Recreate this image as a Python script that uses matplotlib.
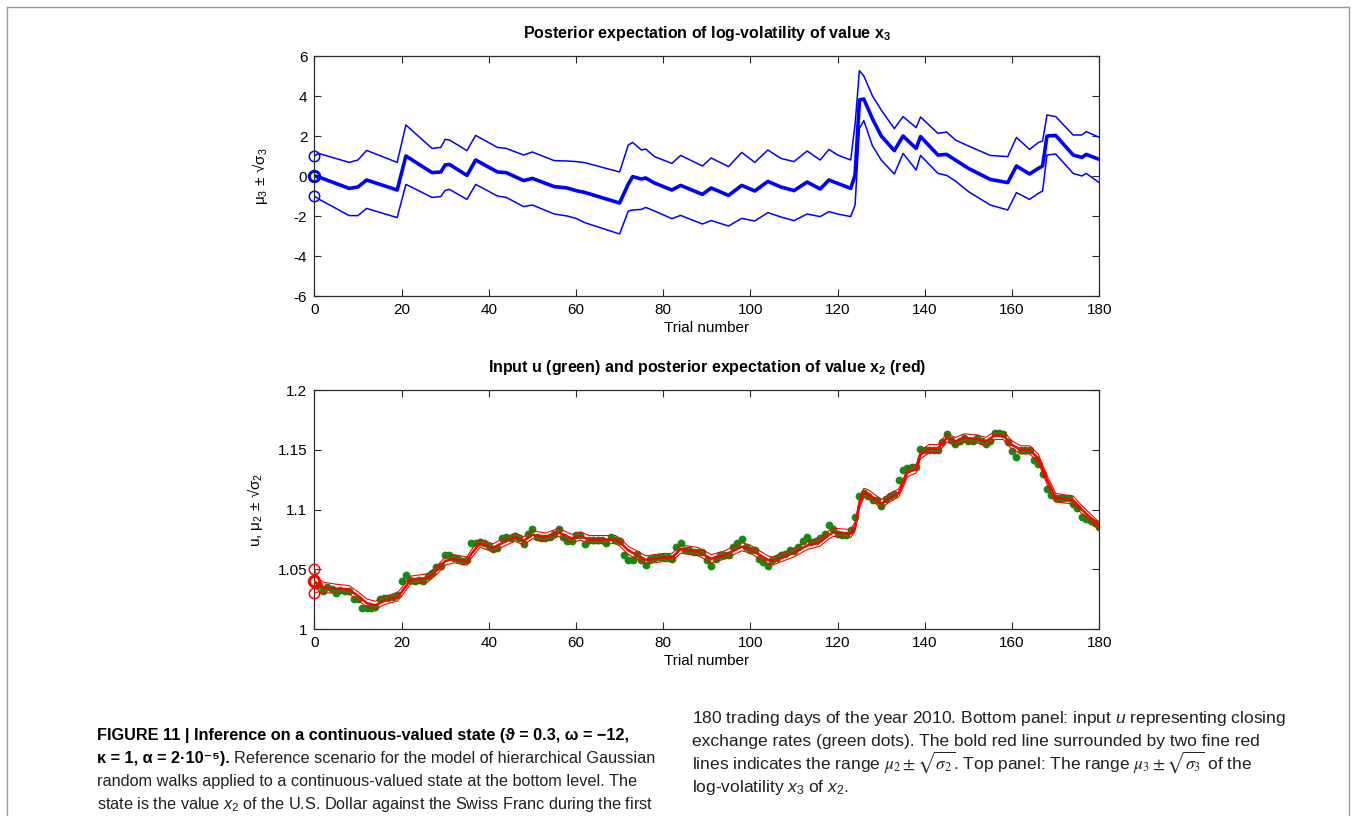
import numpy as np
import matplotlib
matplotlib.use('Agg')
import matplotlib.pyplot as plt
from matplotlib.lines import Line2D

plt.rcParams['font.family'] = ['Liberation Sans', 'DejaVu Sans']
plt.rcParams['mathtext.fontset'] = 'custom'
plt.rcParams['mathtext.rm'] = 'Liberation Sans'
plt.rcParams['mathtext.it'] = 'Liberation Sans:italic'
plt.rcParams['mathtext.bf'] = 'Liberation Sans:bold'
plt.rcParams['axes.unicode_minus'] = False

# ---- top panel: log-volatility x3, read at the corners of the curves ----
vol_trial = [0, 1, 8, 10, 12, 19, 21, 27, 29, 30,
             31, 35, 37, 42, 44, 48, 50, 55, 58, 60,
             62, 70, 72, 73, 75, 76, 78, 82, 84, 89,
             91, 95, 98, 101, 104, 107, 110, 113, 116, 118,
             120, 123, 124, 125, 126, 128, 130, 133, 135, 138,
             139, 143, 145, 147, 150, 155, 159, 161, 164, 166,
             167, 168, 170, 174, 176, 177, 180]
mu3 = [0.0, -0.05, -0.62, -0.55, -0.2, -0.7, 1.0, 0.17, 0.2, 0.55,
       0.58, 0.03, 0.8, 0.2, 0.17, -0.23, -0.12, -0.53, -0.6, -0.73,
       -0.82, -1.35, -0.4, -0.03, -0.15, -0.1, -0.35, -0.7, -0.47, -0.92,
       -0.6, -0.97, -0.47, -0.75, -0.27, -0.55, -0.73, -0.3, -0.65, -0.2,
       -0.37, -0.62, 0.05, 3.8, 3.85, 2.85, 2.0, 1.27, 2.0, 1.38,
       1.97, 1.05, 1.08, 0.8, 0.38, -0.17, -0.33, 0.5, 0.1, 0.38,
       0.5, 2.0, 2.03, 1.05, 0.93, 1.08, 0.83]
mu3_hi = [1.0, 1.13, 0.68, 0.8, 1.28, 0.68, 2.55, 1.38, 1.43, 1.83,
          1.8, 1.27, 2.03, 1.43, 1.38, 1.05, 1.2, 0.77, 0.75, 0.72,
          0.67, 0.2, 1.55, 1.68, 1.3, 1.35, 0.97, 0.63, 1.03, 0.5,
          0.9, 0.47, 1.18, 0.68, 1.3, 0.88, 0.72, 1.25, 0.8, 1.33,
          1.05, 0.8, 2.6, 5.27, 5.0, 4.0, 3.3, 2.37, 2.97, 2.42,
          2.95, 2.13, 2.2, 1.8, 1.5, 1.03, 0.97, 1.93, 1.33, 1.67,
          1.75, 3.05, 2.97, 2.05, 2.05, 2.22, 1.93]
mu3_lo = [-1.0, -1.15, -1.98, -1.98, -1.62, -2.08, -0.42, -1.07, -1.03, -0.72,
          -0.67, -1.17, -0.42, -1.0, -1.07, -1.53, -1.45, -1.9, -2.0, -2.12,
          -2.33, -2.9, -1.75, -1.7, -1.67, -1.57, -1.75, -2.13, -1.97, -2.4,
          -2.23, -2.5, -2.12, -2.25, -1.83, -2.05, -2.23, -1.9, -2.03, -1.78,
          -1.9, -2.03, -1.45, 2.38, 2.77, 1.5, 0.8, 0.1, 1.13, 0.3,
          1.03, 0.13, 0.03, -0.25, -0.78, -1.45, -1.7, -0.83, -1.17, -0.87,
          -0.75, 1.05, 1.1, 0.13, 0.0, 0.13, -0.33]
mu3_start = [1.0, 0.0, -1.0]

# ---- bottom panel: USD/CHF closing rates u (trials 1..180) ----
u = [1.037, 1.032, 1.0355, 1.034, 1.030, 1.033, 1.032, 1.032, 1.025, 1.025,
     1.0175, 1.0175, 1.018, 1.019, 1.025, 1.026, 1.026, 1.027, 1.0285, 1.040,
     1.045, 1.041, 1.0405, 1.041, 1.040, 1.0445, 1.047, 1.052, 1.053, 1.062,
     1.062, 1.060, 1.0585, 1.057, 1.058, 1.072, 1.072, 1.073, 1.072, 1.070,
     1.067, 1.068, 1.076, 1.077, 1.076, 1.078, 1.076, 1.071, 1.080, 1.084,
     1.077, 1.076, 1.076, 1.077, 1.080, 1.084, 1.077, 1.074, 1.074, 1.079,
     1.079, 1.071, 1.075, 1.0745, 1.0745, 1.075, 1.072, 1.077, 1.0745, 1.074,
     1.062, 1.058, 1.058, 1.063, 1.058, 1.054, 1.059, 1.060, 1.0605, 1.0605,
     1.0605, 1.059, 1.069, 1.072, 1.066, 1.066, 1.065, 1.0645, 1.065, 1.058,
     1.053, 1.059, 1.062, 1.062, 1.062, 1.069, 1.072, 1.0755, 1.069, 1.0665,
     1.066, 1.059, 1.0565, 1.053, 1.058, 1.060, 1.062, 1.063, 1.066, 1.0655,
     1.069, 1.074, 1.077, 1.073, 1.074, 1.076, 1.0795, 1.087, 1.084, 1.0795,
     1.079, 1.079, 1.083, 1.094, 1.111, 1.114, 1.111, 1.108, 1.108, 1.103,
     1.109, 1.111, 1.113, 1.1245, 1.1335, 1.135, 1.136, 1.1355, 1.151, 1.150,
     1.150, 1.150, 1.1495, 1.1565, 1.163, 1.1585, 1.1545, 1.1575, 1.1595, 1.1575,
     1.1575, 1.1595, 1.1575, 1.1545, 1.1575, 1.164, 1.164, 1.1635, 1.1565, 1.149,
     1.144, 1.150, 1.1495, 1.1495, 1.1415, 1.138, 1.1295, 1.1175, 1.112, 1.1095,
     1.1095, 1.1095, 1.1095, 1.105, 1.101, 1.094, 1.0925, 1.0905, 1.0885, 1.0855]

# posterior mean mu2 and its sd sqrt(sigma2), read at the corners
mu2_trial = [0, 1, 2, 5, 8, 10, 12, 14, 16, 19,
             20, 22, 26, 28, 30, 32, 35, 36, 38, 41,
             43, 46, 48, 50, 53, 56, 59, 61, 63, 69,
             70, 72, 74, 76, 78, 80, 82, 84, 88, 89,
             91, 94, 98, 100, 104, 105, 110, 113, 116, 118,
             119, 123, 124, 125, 126, 127, 130, 132, 134, 135,
             136, 138, 139, 141, 143, 145, 147, 149, 152, 154,
             156, 158, 160, 162, 164, 166, 168, 170, 172, 174,
             176, 178, 180]
mu2 = [1.040, 1.037, 1.035, 1.034, 1.033, 1.028, 1.022, 1.020, 1.024, 1.027,
       1.031, 1.041, 1.043, 1.049, 1.057, 1.059, 1.057, 1.063, 1.072, 1.068,
       1.072, 1.077, 1.074, 1.079, 1.077, 1.081, 1.076, 1.078, 1.075, 1.075,
       1.073, 1.066, 1.062, 1.058, 1.059, 1.060, 1.060, 1.067, 1.065, 1.063,
       1.059, 1.062, 1.069, 1.067, 1.058, 1.057, 1.064, 1.070, 1.073, 1.079,
       1.081, 1.080, 1.086, 1.105, 1.114, 1.113, 1.105, 1.110, 1.114, 1.122,
       1.131, 1.134, 1.146, 1.151, 1.151, 1.160, 1.157, 1.160, 1.159, 1.157,
       1.162, 1.162, 1.154, 1.150, 1.150, 1.143, 1.125, 1.110, 1.109, 1.108,
       1.100, 1.093, 1.086]
sd2 = [0.010, 0.0055, 0.0045, 0.0037, 0.0035, 0.0034, 0.0034, 0.0034, 0.0034, 0.0034,
       0.0034, 0.0034, 0.0034, 0.0034, 0.0034, 0.0034, 0.0034, 0.0034, 0.0034, 0.0034,
       0.0034, 0.0034, 0.0034, 0.0034, 0.0034, 0.0034, 0.0034, 0.0034, 0.0034, 0.0034,
       0.0034, 0.0034, 0.0034, 0.0034, 0.0034, 0.0034, 0.0034, 0.0034, 0.0034, 0.0034,
       0.0034, 0.0034, 0.0034, 0.0034, 0.0034, 0.0034, 0.0034, 0.0034, 0.0034, 0.0034,
       0.0034, 0.0034, 0.0036, 0.0039, 0.0039, 0.0037, 0.0035, 0.0034, 0.0034, 0.0034,
       0.0034, 0.0034, 0.0034, 0.0034, 0.0034, 0.0034, 0.0034, 0.0034, 0.0034, 0.0034,
       0.0034, 0.0034, 0.0034, 0.0034, 0.0034, 0.0035, 0.0037, 0.0036, 0.0034, 0.0034,
       0.0034, 0.0034, 0.0034]
mu2_start = [1.05, 1.04, 1.03]

x_ticks = [0, 20, 40, 60, 80, 100, 120, 140, 160, 180]
vol_yticks = [-6, -4, -2, 0, 2, 4, 6]
fx_yticks = [1.0, 1.05, 1.1, 1.15, 1.2]
fx_yticklabels = ['1', '1.05', '1.1', '1.15', '1.2']

W, H = 1356, 816
fig = plt.figure(figsize=(W / 100, H / 100), dpi=100)
fig.patch.set_facecolor('white')


def px_ax(left, top, right, bottom):
    return fig.add_axes([left / W, 1 - bottom / H, (right - left) / W, (bottom - top) / H])


def style(ax):
    for s in ax.spines.values():
        s.set_color('#2a2a2a')
        s.set_linewidth(0.9)
    ax.tick_params(direction='in', length=5, width=0.8, top=True, right=True,
                   labelsize=11, pad=5, color='#2a2a2a')
    ax.set_xlim(0, 180)
    ax.set_xticks(x_ticks)
    ax.set_xlabel('Trial number', fontsize=11, labelpad=3)


# top panel
ax1 = px_ax(314.3, 56, 1099.3, 296)
style(ax1)
ax1.plot(vol_trial, mu3_hi, color='#0000ff', lw=1.1)
ax1.plot(vol_trial, mu3_lo, color='#0000ff', lw=1.1)
ax1.plot(vol_trial, mu3, color='#0000ff', lw=2.6)
ax1.plot([0, 0], [mu3_start[0], mu3_start[2]], ls='none', marker='o', ms=7.5,
         mfc='none', mec='#0000ff', mew=1.1, clip_on=False)
ax1.plot([0], [mu3_start[1]], ls='none', marker='o', ms=7.5,
         mfc='none', mec='#0000ff', mew=2.2, clip_on=False)
ax1.set_ylim(-6, 6)
ax1.set_yticks(vol_yticks)
ax1.set_ylabel('μ$_3$ ± √σ$_3$', fontsize=11)
ax1.yaxis.set_label_coords(-0.057, 0.5)
ax1.set_title(r'Posterior expectation of log-volatility of value x$_{\mathbf{3}}$',
              fontsize=11.5, fontweight='bold', pad=13)

# bottom panel: dots first, red band on top
ax2 = px_ax(314.3, 390, 1099.3, 629.3)
style(ax2)
mu2_arr = np.array(mu2)
sd2_arr = np.array(sd2)
ax2.plot(np.arange(1, len(u) + 1), u, ls='none', marker='o', ms=4.6,
         color='#138c13', mec='#138c13', zorder=2)
ax2.plot(mu2_trial, mu2_arr + sd2_arr, color='#ff0000', lw=0.8, zorder=3)
ax2.plot(mu2_trial, mu2_arr - sd2_arr, color='#ff0000', lw=0.8, zorder=3)
ax2.plot(mu2_trial, mu2_arr, color='#ff0000', lw=1.8, zorder=3)
ax2.plot([0, 0], [mu2_start[0], mu2_start[2]], ls='none', marker='o', ms=7.5,
         mfc='none', mec='#ff0000', mew=1.1, clip_on=False, zorder=4)
ax2.plot([0], [mu2_start[1]], ls='none', marker='o', ms=7.5,
         mfc='none', mec='#ff0000', mew=2.2, clip_on=False, zorder=4)
ax2.set_ylim(1.0, 1.2)
ax2.set_yticks(fx_yticks)
ax2.set_yticklabels(fx_yticklabels)
ax2.set_ylabel('u, μ$_2$ ± √σ$_2$', fontsize=11)
ax2.yaxis.set_label_coords(-0.063, 0.5)
ax2.set_title(r'Input u (green) and posterior expectation of value x$_{\mathbf{2}}$ (red)',
              fontsize=11.5, fontweight='bold', pad=13)

# page frame
frame = '#9a9a9a'
fig.add_artist(Line2D([7 / W, 7 / W], [0, 1 - 7 / H], color=frame, lw=1))
fig.add_artist(Line2D([1349 / W, 1349 / W], [0, 1 - 7 / H], color=frame, lw=1))
fig.add_artist(Line2D([7 / W, 1349 / W], [1 - 7 / H, 1 - 7 / H], color=frame, lw=1))

# caption
cap_font = ['Liberation Sans', 'DejaVu Sans']
left_size = 11.7
right_size = 12.5
cap_col = '#231f20'
xl = 97 / W
xr = 692 / W


def fy(p):
    return 1 - p / H


fig.text(xl, fy(740), 'FIGURE 11 | Inference on a continuous-valued state (ϑ = 0.3, ω = −12,',
         family=cap_font, size=left_size, weight='bold', color='black', va='baseline')
b2 = fig.text(xl, fy(763), 'κ = 1, α = 2·10⁻⁵).', family=cap_font, size=left_size,
              weight='bold', color='black', va='baseline')
renderer = fig.canvas.get_renderer()
bb = b2.get_window_extent(renderer)
fig.text(bb.x1 / W + 4 / W, fy(763), 'Reference scenario for the model of hierarchical Gaussian',
         family=cap_font, size=left_size, color=cap_col, va='baseline')
fig.text(xl, fy(786), 'random walks applied to a continuous-valued state at the bottom level. The',
         family=cap_font, size=left_size, color=cap_col, va='baseline')
fig.text(xl, fy(809), 'state is the value $x_2$ of the U.S. Dollar against the Swiss Franc during the first',
         family=cap_font, size=left_size, color=cap_col, va='baseline')

fig.text(xr, fy(723), '180 trading days of the year 2010. Bottom panel: input $u$ representing closing',
         family=cap_font, size=right_size, color=cap_col, va='baseline')
fig.text(xr, fy(746), 'exchange rates (green dots). The bold red line surrounded by two fine red',
         family=cap_font, size=right_size, color=cap_col, va='baseline')
fig.text(xr, fy(769), r'lines indicates the range $\mu_2 \pm \sqrt{\sigma_2}$. Top panel: The range '
         r'$\mu_3 \pm \sqrt{\sigma_3}$ of the',
         family=cap_font, size=right_size, color=cap_col, va='baseline', math_fontfamily='stix')
fig.text(xr, fy(792), 'log-volatility $x_3$ of $x_2$.',
         family=cap_font, size=right_size, color=cap_col, va='baseline')

fig.savefig('out.png', dpi=100, facecolor='white')
